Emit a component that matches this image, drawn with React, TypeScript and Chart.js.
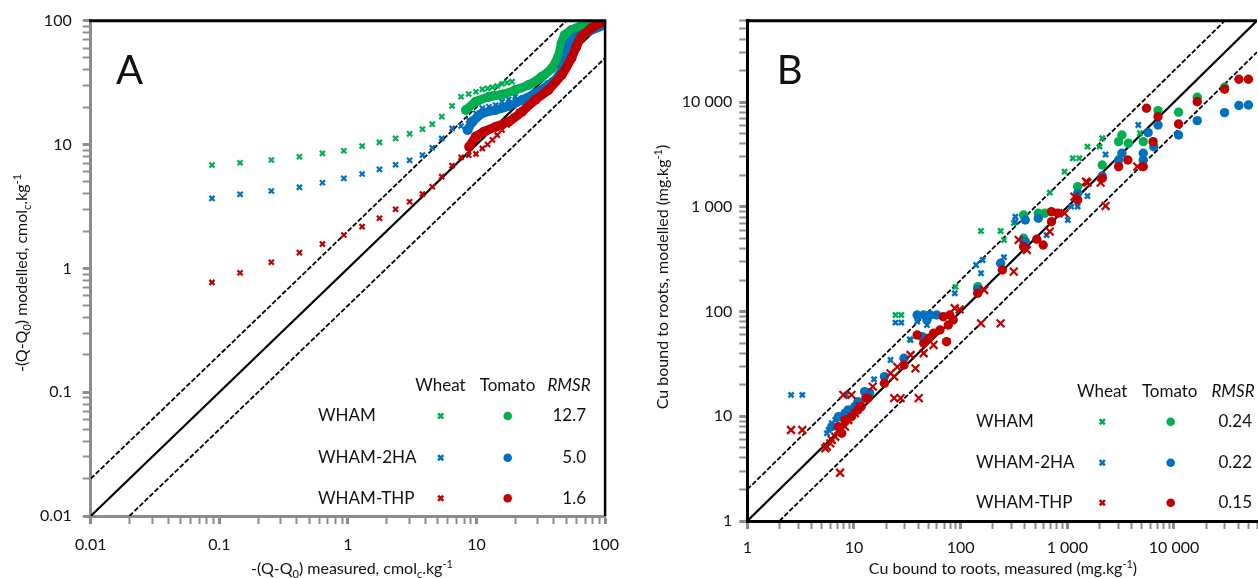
import React, { useEffect, useRef } from 'react';
import { Chart, registerables } from 'chart.js';

Chart.register(...registerables);

const FONT = 'Lato, "Open Sans", sans-serif';
const GREEN = '#00B050';
const BLUE = '#0070C0';
const RED = '#C00000';
const AXIS_GREY = '#8c8c8c';
const TEXT = '#111111';

const SERIES_NAMES = ['WHAM', 'WHAM-2HA', 'WHAM-THP'];
const SERIES_COLORS = [GREEN, BLUE, RED];
const LEGEND_HEADERS = ['Wheat', 'Tomato', 'RMSR'];

type P = [number, number];

// ---------------- Panel A ----------------
const A_MAJOR = [0.01, 0.1, 1, 10, 100];
const A_LABELS = ['0.01', '0.1', '1', '10', '100'];
const A_RMSR = ['12.7', '5.0', '1.6'];

const A_WHEAT_WHAM: P[] = [
  [0.0877, 6.82], [0.145, 7.13], [0.254, 7.5], [0.42, 7.97], [0.634, 8.49], [0.93, 8.91],
  [1.29, 9.72], [1.76, 10.4], [2.35, 11.2], [3.02, 12.2], [3.8, 13.3], [4.53, 14.6],
  [5.37, 16.8], [6.46, 20.5], [7.59, 24.3], [8.7, 25.6], [9.9, 26.7], [11.1, 27.9],
  [12.2, 28.4], [13.3, 29.0], [14.5, 29.7], [15.8, 30.8], [17.3, 31.6], [18.9, 32.2],
];
const A_WHEAT_2HA: P[] = [
  [0.0877, 3.67], [0.145, 3.96], [0.254, 4.21], [0.42, 4.51], [0.634, 4.91], [0.93, 5.33],
  [1.29, 5.78], [1.76, 6.3], [2.35, 6.87], [3.02, 7.45], [3.8, 8.22], [4.53, 9.42],
  [5.37, 11.2], [6.46, 13.5], [7.59, 14.1], [8.7, 15.8], [9.9, 17.9], [11.1, 19.6],
  [12.5, 20.2], [14.1, 20.8], [15.8, 22.2], [17.8, 23.2], [20.0, 24.3],
];
const A_WHEAT_THP: P[] = [
  [0.0877, 0.77], [0.145, 0.92], [0.254, 1.12], [0.42, 1.34], [0.634, 1.57], [0.93, 1.86],
  [1.29, 2.17], [1.76, 2.54], [2.35, 3.0], [3.02, 3.45], [3.8, 3.98], [4.53, 4.56],
  [5.37, 5.5], [6.46, 6.75], [7.59, 7.88], [8.7, 8.2], [9.9, 8.4], [11.1, 9.3],
  [12.2, 10.0], [13.3, 10.9], [14.5, 11.9], [15.8, 13.1], [17.3, 14.4], [19.5, 16.8], [21.3, 18.4],
];
const A_TOMATO_WHAM: P[] = [
  [8.28, 19.0], [9.88, 22.2], [12.5, 24.3], [15.8, 25.4], [20.0, 27.5], [25.4, 30.2],
  [32.2, 35.3], [38.5, 41.2], [43.2, 51.2], [45.9, 65.7], [48.6, 76.6], [54.7, 84.1],
  [65.3, 90.6], [82.8, 98.2], [99, 100],
];
const A_TOMATO_2HA: P[] = [
  [8.53, 13.1], [9.31, 15.3], [11.1, 17.9], [14.1, 19.0], [17.8, 20.5], [22.6, 22.9],
  [28.6, 25.9], [36.1, 30.2], [43.2, 35.3], [48.6, 45.3], [53.1, 65.7], [59.8, 74.3],
  [73.5, 81.5], [99, 92.3],
];
const A_TOMATO_THP: P[] = [
  [8.77, 9.6], [9.88, 11.6], [11.4, 12.7], [14.1, 13.9], [17.8, 15.3], [22.6, 18.4],
  [28.6, 22.9], [36.1, 27.5], [45.9, 36.4], [54.7, 49.7], [59.8, 61.7], [65.3, 74.3],
  [78.0, 86.9], [99, 100],
];
const A_ONE_TO_ONE: P[] = [[0.01, 0.01], [100, 100]];
const A_TWO_TIMES: P[] = [[0.01, 0.02], [50, 100]];
const A_HALF: P[] = [[0.02, 0.01], [100, 50]];

// ---------------- Panel B ----------------
const B_MAJOR = [1, 10, 100, 1000, 10000];
const B_LABELS = ['1', '10', '100', '1 000', '10 000'];
const B_MAX = 60000;
const B_RMSR = ['0.24', '0.22', '0.15'];

const B_WHEAT_WHAM: P[] = [
  [24.5, 92.8], [27.8, 92.8], [33.4, 54.4], [89.4, 172], [155, 588], [237, 588], [255, 483],
  [315, 702], [686, 1367], [942, 2169], [1124, 2912], [1297, 2912], [1545, 3758], [2010, 3758],
  [2125, 4521], [4797, 5047],
];
const B_WHEAT_2HA: P[] = [
  [2.57, 16.0], [3.28, 16.0], [5.58, 6.88], [5.78, 7.4], [6.2, 8.58], [6.67, 9.22], [7.15, 9.57],
  [7.67, 9.91], [8.47, 16.0], [15.4, 22.6], [22.0, 34.5], [24.5, 78.4], [27.8, 78.4], [33.9, 53.5],
  [39.1, 80.1], [48.3, 74.5], [88.1, 149.6], [139.6, 278.6], [160.8, 311.2], [155.2, 232.3],
  [254.6, 330.2], [326, 805.8], [326, 722], [639, 539], [1011, 749.5], [1087, 1005], [1250, 1005],
  [1545, 1271], [2284, 3164], [4627, 6055],
];
const B_WHEAT_THP: P[] = [
  [2.57, 7.4], [3.28, 7.4], [7.41, 2.89], [7.95, 16.0], [9.48, 16.0], [5.39, 4.95], [5.58, 5.13],
  [6.0, 5.52], [6.2, 5.94], [6.67, 6.38], [7.15, 7.4], [8.24, 7.96], [8.84, 9.22], [10.2, 10.7],
  [11.3, 12.4], [15.0, 19.2], [22.0, 25.7], [23.8, 23.9], [25.5, 29.6], [23.8, 14.9], [27.4, 14.9],
  [40.5, 14.9], [33.9, 38.5], [37.7, 28.7], [45.0, 40.0], [55.7, 48.0], [88.1, 107.6], [97.9, 105],
  [155.2, 77.3], [237, 77.3], [166.4, 160.8], [314.6, 240.4], [349.8, 483.2], [418, 387.5],
  [685.5, 579.5], [942.4, 868.7], [1165, 1251], [1493, 1741], [1545, 1702], [2053, 1702],
  [2284, 1020], [4530, 2421],
];
const B_TOMATO_WHAM: P[] = [
  [389, 837], [534.6, 868.7], [616.6, 868.7], [389, 501.5], [144.6, 172.9], [1250, 1560],
  [2125, 2512], [3027, 4198], [3249, 4863], [3742, 4050], [5150, 4198], [7080, 8296],
  [11040, 8012], [16520, 11140], [29780, 13870],
];
const B_TOMATO_2HA: P[] = [
  [6.2, 7.96], [7.15, 9.91], [8.24, 10.7], [8.84, 11.5], [10.2, 12.4], [10.9, 13.8], [13.0, 15.4],
  [14.0, 16.8], [12.6, 17.2], [19.3, 23.9], [29.4, 35.8], [39.1, 92.8], [45.0, 92.8], [51.8, 92.8],
  [59.7, 92.8], [48.3, 83.2], [43.4, 57.6], [144.6, 163], [237, 289.3], [403.6, 749.5],
  [534.6, 778], [403.6, 465.4], [1250, 1349], [2125, 1973], [3027, 2805], [3249, 3250],
  [5150, 3250], [5150, 2805], [5724, 5115], [6460, 3758], [7080, 6055], [11040, 4863],
  [16520, 6658], [29780, 7941], [40590, 9300], [49890, 9403],
];
const B_TOMATO_THP: P[] = [
  [7.15, 7.96], [7.67, 6.88], [8.24, 9.22], [9.48, 9.91], [10.9, 11.5], [11.7, 12.4], [13.0, 14.9],
  [13.5, 14.9], [19.3, 20.7], [29.4, 30.9], [39.1, 59.8], [45.0, 49.8], [50.1, 55.6], [55.7, 62.1],
  [64.0, 66.7], [68.8, 89.4], [76.5, 74.5], [79.2, 92.8], [85.1, 83.2], [73.8, 51.6],
  [144.6, 149.6], [246, 249.6], [710.8, 899.9], [817, 868.7], [710.8, 722], [389, 416.9],
  [516.8, 490.6], [594.3, 432.6], [1250, 1165], [2125, 1876], [3027, 2421], [3690, 2805],
  [5150, 2421], [5520, 8750], [6365, 4198], [7080, 7271], [11040, 6192], [16520, 10110],
  [29780, 13280], [40590, 16550], [49890, 16550],
];
const B_ONE_TO_ONE: P[] = [[1, 1], [B_MAX, B_MAX]];
const B_TWO_TIMES: P[] = [[1, 2], [B_MAX / 2, B_MAX]];
const B_HALF: P[] = [[2, 1], [B_MAX, B_MAX / 2]];

// ---------------- helpers ----------------
const toPts = (arr: P[]) => arr.map(([x, y]) => ({ x, y }));

function logTicks(majors: number[], max: number) {
  const out: number[] = [];
  for (const d of majors) {
    for (let m = 1; m <= 9; m++) {
      const v = m === 1 ? d : +(d * m).toPrecision(6);
      if (v <= max * 1.0000001) out.push(v);
    }
  }
  return out;
}

function logAxis(kind: 'x' | 'y', o: { min: number; max: number; majors: number[]; labels: string[]; size: number; padding: number; border: string }) {
  const tickVals = logTicks(o.majors, o.max);
  return {
    type: 'logarithmic',
    position: kind === 'x' ? 'bottom' : 'left',
    min: o.min,
    max: o.max,
    afterBuildTicks: (s: any) => {
      s.ticks = tickVals.map((v) => ({ value: v }));
    },
    afterFit: (s: any) => {
      if (kind === 'x') s.height = o.size;
      else s.width = o.size;
    },
    ticks: {
      autoSkip: false,
      maxRotation: 0,
      minRotation: 0,
      padding: o.padding,
      font: { family: FONT, size: 16 },
      color: TEXT,
      callback: (v: number) => {
        const i = o.majors.indexOf(v);
        return i >= 0 ? o.labels[i] : '';
      },
    },
    grid: {
      display: true,
      drawOnChartArea: false,
      drawTicks: true,
      tickLength: 8,
      tickColor: AXIS_GREY,
      tickWidth: (c: any) => (c.tick && o.majors.includes(c.tick.value) ? 3 : 2),
    },
    border: { display: true, color: o.border, width: 3 },
  };
}

function crossSet(data: P[], color: string, r: number, bw: number, order: number) {
  return {
    data: toPts(data), showLine: false, pointStyle: 'crossRot', pointRadius: r, pointHoverRadius: r,
    pointBorderWidth: bw, pointBorderColor: color, pointBackgroundColor: color, borderColor: color,
    backgroundColor: color, order,
  };
}
function dotSet(data: P[], color: string, r: number, order: number) {
  return {
    data: toPts(data), showLine: false, pointStyle: 'circle', pointRadius: r, pointHoverRadius: r,
    pointBorderWidth: 0, pointBorderColor: color, pointBackgroundColor: color, borderColor: color,
    backgroundColor: color, order,
  };
}
function bandSet(data: P[], color: string, order: number) {
  return {
    data: toPts(data), showLine: true, borderColor: color, backgroundColor: color, borderWidth: 9,
    borderCapStyle: 'round', borderJoinStyle: 'round', tension: 0.12, pointStyle: 'circle',
    pointRadius: 5, pointHoverRadius: 5, pointBorderWidth: 0, pointBackgroundColor: color, order, fill: false,
  };
}
function refLine(data: P[], dashed: boolean) {
  return {
    data: toPts(data), showLine: true, borderColor: '#000', borderWidth: dashed ? 1.8 : 2.2,
    borderDash: dashed ? [5, 2] : [], pointRadius: 0, pointHoverRadius: 0, order: 50, fill: false,
  };
}

type Seg = { t: string; s?: 'sub' | 'sup' };
function drawRich(ctx: CanvasRenderingContext2D, segs: Seg[], cx: number, cy: number, size: number, rotate: boolean) {
  ctx.save();
  ctx.translate(cx, cy);
  if (rotate) ctx.rotate(-Math.PI / 2);
  const base = `${size}px ${FONT}`;
  const small = `${Math.round(size * 0.68)}px ${FONT}`;
  let w = 0;
  for (const s of segs) {
    ctx.font = s.s ? small : base;
    w += ctx.measureText(s.t).width;
  }
  let x = -w / 2;
  ctx.textAlign = 'left';
  ctx.textBaseline = 'alphabetic';
  ctx.fillStyle = TEXT;
  const baseY = size * 0.36;
  for (const s of segs) {
    ctx.font = s.s ? small : base;
    const dy = s.s === 'sub' ? size * 0.24 : s.s === 'sup' ? -size * 0.38 : 0;
    ctx.fillText(s.t, x, baseY + dy);
    x += ctx.measureText(s.t).width;
  }
  ctx.restore();
}

function drawCross(ctx: CanvasRenderingContext2D, x: number, y: number, r: number, color: string, lw: number) {
  ctx.strokeStyle = color;
  ctx.lineWidth = lw;
  ctx.beginPath();
  ctx.moveTo(x - r, y - r);
  ctx.lineTo(x + r, y + r);
  ctx.moveTo(x + r, y - r);
  ctx.lineTo(x - r, y + r);
  ctx.stroke();
}

interface Deco {
  letter: string; letterX: number; letterY: number;
  xTitle: Seg[]; xTitleX: number; xTitleY: number;
  yTitle: Seg[]; yTitleX: number; yTitleY: number;
  rightBorder: boolean;
  legend: { headerY: number; headerX: number[]; rowX: number; rowY: number[]; crossX: number; dotX: number; valueRight: number; values: string[] };
}

function decoPlugin(d: Deco) {
  return {
    id: 'deco',
    afterDraw(chart: any) {
      const ctx: CanvasRenderingContext2D = chart.ctx;
      const ca = chart.chartArea;
      ctx.save();
      ctx.strokeStyle = '#000';
      ctx.lineWidth = 3;
      ctx.beginPath();
      ctx.moveTo(ca.left - 1.5, ca.top);
      ctx.lineTo(ca.right + (d.rightBorder ? 1.2 : 0), ca.top);
      ctx.stroke();
      if (d.rightBorder) {
        ctx.lineWidth = 2.5;
        ctx.beginPath();
        ctx.moveTo(ca.right, ca.top);
        ctx.lineTo(ca.right, ca.bottom);
        ctx.stroke();
      }
      ctx.fillStyle = TEXT;
      ctx.font = `40px ${FONT}`;
      ctx.textAlign = 'left';
      ctx.textBaseline = 'alphabetic';
      ctx.fillText(d.letter, d.letterX, d.letterY);
      drawRich(ctx, d.xTitle, d.xTitleX, d.xTitleY, 16, false);
      drawRich(ctx, d.yTitle, d.yTitleX, d.yTitleY, 16, true);
      const L = d.legend;
      ctx.textBaseline = 'middle';
      ctx.fillStyle = TEXT;
      ctx.textAlign = 'center';
      ctx.font = `17px ${FONT}`;
      ctx.fillText(LEGEND_HEADERS[0], L.headerX[0], L.headerY);
      ctx.fillText(LEGEND_HEADERS[1], L.headerX[1], L.headerY);
      ctx.font = `italic 17px ${FONT}`;
      ctx.fillText(LEGEND_HEADERS[2], L.headerX[2], L.headerY);
      ctx.font = `17px ${FONT}`;
      SERIES_NAMES.forEach((name, i) => {
        const y = L.rowY[i];
        ctx.fillStyle = TEXT;
        ctx.textAlign = 'left';
        ctx.fillText(name, L.rowX, y);
        ctx.textAlign = 'right';
        ctx.fillText(L.values[i], L.valueRight, y);
        drawCross(ctx, L.crossX, y, 2.6, SERIES_COLORS[i], 2.6);
        ctx.fillStyle = SERIES_COLORS[i];
        ctx.beginPath();
        ctx.arc(L.dotX, y, 4.3, 0, Math.PI * 2);
        ctx.fill();
      });
      ctx.restore();
    },
  };
}

const Q_SEGS = (word: string): Seg[] => [
  { t: '-(Q-Q' }, { t: '0', s: 'sub' }, { t: `) ${word}, cmol` }, { t: 'c', s: 'sub' }, { t: '.kg' }, { t: '-1', s: 'sup' },
];
const CU_SEGS = (word: string): Seg[] => [
  { t: `Cu bound to roots, ${word} (mg.kg` }, { t: '-1', s: 'sup' }, { t: ')' },
];

function configA(): any {
  return {
    type: 'scatter',
    data: {
      datasets: [
        refLine(A_ONE_TO_ONE, false),
        refLine(A_TWO_TIMES, true),
        refLine(A_HALF, true),
        crossSet(A_WHEAT_WHAM, GREEN, 3.6, 2.2, 12),
        crossSet(A_WHEAT_2HA, BLUE, 3.6, 2.2, 11),
        crossSet(A_WHEAT_THP, RED, 3.6, 2.2, 10),
        bandSet(A_TOMATO_WHAM, GREEN, 9),
        bandSet(A_TOMATO_2HA, BLUE, 8),
        bandSet(A_TOMATO_THP, RED, 7),
      ],
    },
    options: {
      responsive: false,
      animation: false,
      events: [],
      layout: { padding: { left: 0, top: 20.7, right: 19.3, bottom: 0 } },
      plugins: { legend: { display: false }, tooltip: { enabled: false } },
      scales: {
        x: logAxis('x', { min: 0.01, max: 100, majors: A_MAJOR, labels: A_LABELS, size: 62, padding: 11, border: AXIS_GREY }),
        y: logAxis('y', { min: 0.01, max: 100, majors: A_MAJOR, labels: A_LABELS, size: 90.7, padding: 11, border: AXIS_GREY }),
      },
    },
    plugins: [
      decoPlugin({
        letter: 'A', letterX: 116, letterY: 83.5,
        xTitle: Q_SEGS('measured'), xTitleX: 352, xTitleY: 568,
        yTitle: Q_SEGS('modelled'), yTitleX: 21, yTitleY: 273,
        rightBorder: true,
        legend: { headerY: 386, headerX: [440.5, 507.5, 569], rowX: 318, rowY: [416, 457.7, 498.3], crossX: 440.7, dotX: 507.7, valueRight: 586, values: A_RMSR },
      }),
    ],
  };
}

function configB(): any {
  return {
    type: 'scatter',
    data: {
      datasets: [
        refLine(B_ONE_TO_ONE, false),
        refLine(B_TWO_TIMES, true),
        refLine(B_HALF, true),
        crossSet(B_WHEAT_WHAM, GREEN, 3.6, 2.5, 12),
        crossSet(B_WHEAT_2HA, BLUE, 3.6, 2.5, 11),
        crossSet(B_WHEAT_THP, RED, 5.5, 2.2, 7),
        dotSet(B_TOMATO_WHAM, GREEN, 4.7, 10),
        dotSet(B_TOMATO_2HA, BLUE, 4.7, 9),
        dotSet(B_TOMATO_THP, RED, 4.7, 8),
      ],
    },
    options: {
      responsive: false,
      animation: false,
      events: [],
      layout: { padding: { left: 0, top: 20.7, right: 0.3, bottom: 0 } },
      plugins: { legend: { display: false }, tooltip: { enabled: false } },
      scales: {
        x: logAxis('x', { min: 1, max: B_MAX, majors: B_MAJOR, labels: B_LABELS, size: 57, padding: 9, border: '#000' }),
        y: logAxis('y', { min: 1, max: B_MAX, majors: B_MAJOR, labels: B_LABELS, size: 117.3, padding: 7, border: '#000' }),
      },
    },
    plugins: [
      decoPlugin({
        letter: 'B', letterX: 146.7, letterY: 83.5,
        xTitle: CU_SEGS('measured'), xTitleX: 373, xTitleY: 568,
        yTitle: CU_SEGS('modelled'), yTitleX: 32, yTitleY: 277,
        rightBorder: false,
        legend: { headerY: 391.7, headerX: [472.2, 539.7, 603], rowX: 346, rowY: [421.7, 462.7, 502.7], crossX: 472.3, dotX: 540.7, valueRight: 622, values: B_RMSR },
      }),
    ],
  };
}

function Panel({ left, width, make }: { left: number; width: number; make: () => any }) {
  const ref = useRef<HTMLCanvasElement>(null);
  useEffect(() => {
    const chart = new Chart(ref.current as HTMLCanvasElement, make());
    return () => chart.destroy();
  }, []);
  return (
    <canvas
      ref={ref}
      width={width}
      height={578}
      style={{ position: 'absolute', left, top: 0, width, height: 578, display: 'block' }}
    />
  );
}

export default function App() {
  return (
    <div style={{ position: 'absolute', left: 0, top: 0, width: 1258, height: 578, overflow: 'hidden', background: '#fff' }}>
      <Panel left={0} width={630} make={configA} />
      <Panel left={630} width={636} make={configB} />
    </div>
  );
}
